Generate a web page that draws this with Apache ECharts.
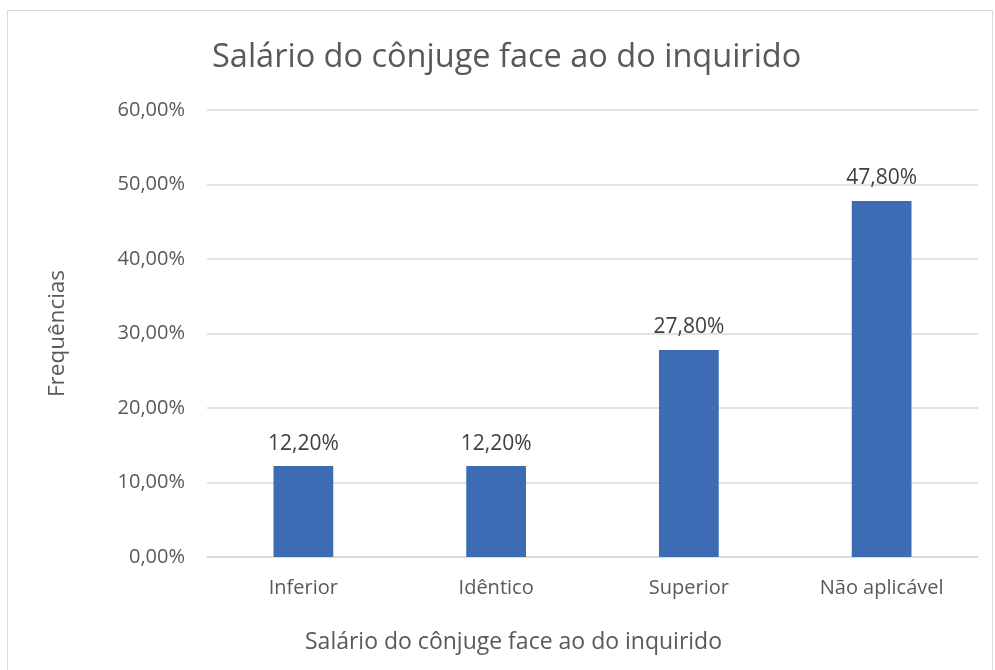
<!DOCTYPE html>
<html><head><meta charset="utf-8">
<script src="https://cdn.jsdelivr.net/npm/echarts@6/dist/echarts.min.js"></script>
<style>html,body{margin:0;padding:0;background:#fff}#c{width:995px;height:670px}</style>
</head><body><div id="c"></div>
<script>
const categories = ['Inferior', 'Idêntico', 'Superior', 'Não aplicável'];
const values = [12.2, 12.2, 27.8, 47.8];
const yTicks = { min: 0, max: 60, interval: 10 };
const titleText = 'Salário do cônjuge face ao do inquirido';
const xName = 'Salário do cônjuge face ao do inquirido';
const yName = 'Frequências';

const fmt = v => v.toFixed(2).replace('.', ',') + '%';
const FONT = 'Open Sans';
const chart = echarts.init(document.getElementById('c'), null, { renderer: 'canvas' });
chart.setOption({
  animation: false,
  textStyle: { fontFamily: FONT },
  title: { text: titleText, left: 212, top: 41, padding: 0, textStyle: { fontFamily: FONT, fontSize: 32.5, fontWeight: 'normal', color: '#595959' } },
  graphic: [{ type: 'rect', shape: { x: 7.5, y: 10.5, width: 985, height: 700 }, style: { fill: 'none', stroke: '#d9d9d9', lineWidth: 1 }, silent: true }],
  grid: { left: 207, right: 17, top: 110, bottom: 113, containLabel: false },
  xAxis: {
    type: 'category', data: categories,
    name: xName, nameLocation: 'middle', nameGap: 74,
    nameTextStyle: { fontFamily: FONT, fontSize: 23, color: '#595959', padding: [0, 158, 0, 0] },
    axisLine: { show: true, lineStyle: { color: '#d9d9d9', width: 1.5 } },
    axisTick: { show: false },
    axisLabel: { fontFamily: FONT, fontSize: 20, color: '#595959', margin: 21 }
  },
  yAxis: {
    type: 'value', min: yTicks.min, max: yTicks.max, interval: yTicks.interval,
    name: yName, nameLocation: 'middle', nameGap: 138, nameRotate: 90,
    nameTextStyle: { fontFamily: FONT, fontSize: 22.5, color: '#595959' },
    axisLine: { show: false }, axisTick: { show: false },
    splitLine: { lineStyle: { color: '#d9d9d9', width: 1.5 } },
    axisLabel: { fontFamily: FONT, fontSize: 20, color: '#595959', margin: 22, formatter: v => fmt(v) }
  },
  series: [{
    type: 'bar', data: values, barWidth: '31%',
    itemStyle: { color: '#3E6CB4' },
    label: { show: true, position: 'top', distance: 12, fontFamily: FONT, fontSize: 21, color: '#404040', formatter: p => fmt(p.value) }
  }]
});
</script></body></html>
